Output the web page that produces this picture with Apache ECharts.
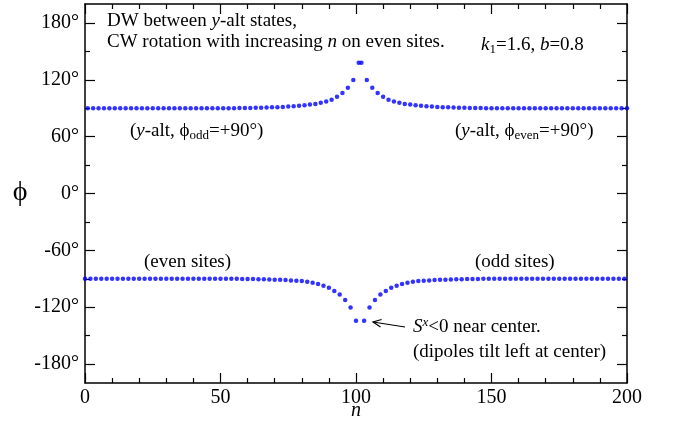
<!DOCTYPE html>
<html>
<head>
<meta charset="utf-8">
<script src="https://cdn.jsdelivr.net/npm/echarts@6/dist/echarts.min.js"></script>
<style>
  html, body { margin: 0; padding: 0; background: #fff; }
  #chart { width: 676px; height: 423px; }
</style>
</head>
<body>
<div id="chart"></div>
<script>
// Site angle phi(n) for the domain wall chain, n = 0..200
const phi = [
  -90, 90, -90, 90, -90, 90, -90, 90, -90, 90,
  -90, 90, -90, 90, -90, 90, -90, 90, -90, 90,
  -90, 90, -90, 90, -90, 90, -90, 90, -90, 90,
  -90, 90, -90, 90, -90, 90, -90, 90, -90, 90,
  -90, 90, -90, 90, -90, 90, -90, 90, -90, 90,
  -90, 90.1, -90.1, 90.1, -90.1, 90.1, -90.1, 90.2, -90.2, 90.2,
  -90.2, 90.3, -90.3, 90.4, -90.4, 90.5, -90.5, 90.7, -90.7, 90.9,
  -90.9, 91.1, -91.1, 91.4, -91.4, 91.7, -91.8, 92.1, -92.1, 92.7,
  -92.4, 93.2, -93.2, 93.8, -94.2, 94.5, -95.6, 95.9, -97.4, 97,
  -99.5, 99, -102.9, 102.2, -106.5, 106.1, -112.4, 111.7, -120.2, 119.8,
  -134.2, 138, 138, -134.2, 119.8, -120.2, 111.7, -112.4, 106.1, -106.5,
  102.2, -102.9, 99, -99.5, 97, -97.4, 95.9, -95.6, 94.5, -94.2,
  93.8, -93.2, 93.2, -92.4, 92.7, -92.1, 92.1, -91.8, 91.7, -91.4,
  91.4, -91.1, 91.1, -90.9, 90.9, -90.7, 90.7, -90.5, 90.5, -90.4,
  90.4, -90.3, 90.3, -90.2, 90.2, -90.2, 90.2, -90.1, 90.1, -90.1,
  90.1, -90.1, 90.1, -90, 90, -90, 90, -90, 90, -90,
  90, -90, 90, -90, 90, -90, 90, -90, 90, -90,
  90, -90, 90, -90, 90, -90, 90, -90, 90, -90,
  90, -90, 90, -90, 90, -90, 90, -90, 90, -90,
  90, -90, 90, -90, 90, -90, 90, -90, 90, -90,
  90
];

// Axis ticks
const xTicks = [0, 50, 100, 150, 200];
const yMajor = [-180, -120, -60, 0, 60, 120, 180];
const yMinor = [-150, -90, -30, 30, 90, 150];

const points = phi.map((v, n) => [n, v]);

const FONT = '"Liberation Serif", "Times New Roman", serif';
const chart = echarts.init(document.getElementById('chart'), null, { renderer: 'canvas' });

const lineStyle = { color: '#000', width: 1.5 };

function xAxisDef(pos, showLabel) {
  return {
    type: 'value', position: pos, min: xTicks[0], max: xTicks[xTicks.length - 1],
    interval: xTicks[1] - xTicks[0],
    axisLine: { show: true, onZero: false, lineStyle },
    axisTick: { show: true, inside: true, length: 10, lineStyle: { color: '#000', width: 1.2 } },
    minorTick: { show: true, splitNumber: 5, length: 5, lineStyle: { color: '#000', width: 1.2 } },
    splitLine: { show: false },
    minorSplitLine: { show: false },
    axisLabel: { show: showLabel, color: '#000', fontFamily: FONT, fontSize: 20, margin: 5 },
    name: showLabel ? 'n' : '',
    nameLocation: 'middle', nameGap: 28, nameMoveOverlap: false,
    nameTextStyle: { fontFamily: FONT, fontSize: 20, fontStyle: 'italic', color: '#000',
                     verticalAlign: 'middle' }
  };
}

function yAxisDef(pos, values, len, showLine, showLabel) {
  return {
    type: 'value', position: pos, min: -200, max: 200, interval: 20,
    axisLine: { show: showLine, onZero: false, lineStyle },
    axisTick: { show: true, inside: true, length: len, customValues: values,
                lineStyle: { color: '#000', width: 1.2 } },
    splitLine: { show: false },
    axisLabel: { show: showLabel, customValues: values, color: '#000', fontFamily: FONT,
                 fontSize: 20, margin: 6, formatter: v => v + '°' }
  };
}

const baseText = { fontFamily: FONT, fontSize: 19, fill: '#000', lineHeight: 22 };
const rich = {
  i: { fontFamily: FONT, fontSize: 19, fontStyle: 'italic', lineHeight: 22 },
  sub: { fontFamily: FONT, fontSize: 13, lineHeight: 11, verticalAlign: 'bottom' },
  sup: { fontFamily: FONT, fontSize: 13, fontStyle: 'italic', lineHeight: 11, verticalAlign: 'top' }
};
function label(x, y, text) {
  return {
    type: 'text', x, y, z: 100,
    style: Object.assign({}, baseText, { text, rich, verticalAlign: 'middle', align: 'left' })
  };
}

chart.setOption({
  animation: false,
  backgroundColor: '#fff',
  grid: { left: 85, right: 49, top: 4, bottom: 40, containLabel: false, outerBoundsMode: 'none' },
  xAxis: [xAxisDef('bottom', true), xAxisDef('top', false)],
  yAxis: [
    yAxisDef('left', yMajor, 10, true, true),
    yAxisDef('left', yMinor, 5, false, false),
    yAxisDef('right', yMajor, 10, true, false),
    yAxisDef('right', yMinor, 5, false, false)
  ],
  series: [{
    type: 'scatter',
    xAxisIndex: 0, yAxisIndex: 0,
    symbol: 'circle', symbolSize: 4.5,
    itemStyle: { color: '#0000ff' },
    data: points,
    z: 5
  }],
  graphic: [
    { type: 'text', x: 20, y: 193, z: 100,
      style: { text: 'ϕ', fontFamily: FONT, fontSize: 28, fill: '#000', align: 'center', verticalAlign: 'middle' } },
    label(107, 21, 'DW between {i|y}-alt states,'),
    label(107, 42, 'CW rotation with increasing {i|n} on even sites.'),
    label(481, 45, '{i|k}{sub|1}=1.6, {i|b}=0.8'),
    label(130, 131, '({i|y}-alt, ϕ{sub|odd}=+90°)'),
    label(455, 131, '({i|y}-alt, ϕ{sub|even}=+90°)'),
    label(144, 262, '(even sites)'),
    label(475, 262, '(odd sites)'),
    label(413, 327, '{i|S}{sup|x}<0 near center.'),
    label(413, 352, '(dipoles tilt left at center)'),
    { type: 'polyline', z: 100, shape: { points: [[405, 327], [373, 322]] },
      style: { stroke: '#000', lineWidth: 1.2, fill: null } },
    { type: 'polyline', z: 100, shape: { points: [[381.6, 319.5], [373, 322], [380.5, 327]] },
      style: { stroke: '#000', lineWidth: 1.2, fill: null } }
  ]
});
</script>
</body>
</html>
